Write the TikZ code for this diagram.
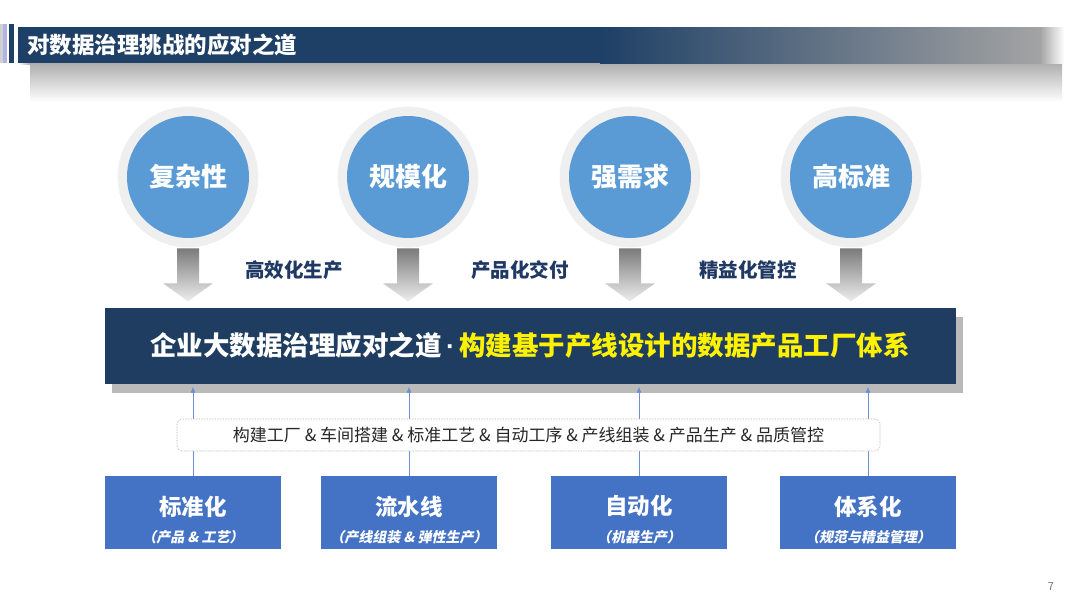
\documentclass[tikz,border=0pt]{standalone}
\usepackage{fontspec}
\setmainfont{Noto Sans CJK SC}
\newfontfamily\slfont{Noto Sans CJK SC}[FakeSlant=0.2]
\newfontfamily\dotfont{Liberation Sans}
\usetikzlibrary{shadows,arrows.meta}
\definecolor{titlenavy}{HTML}{1E4066}
\definecolor{bannernavy}{HTML}{1F3D61}
\definecolor{cblue}{HTML}{5B9BD5}
\definecolor{ringgray}{HTML}{EFEFEF}
\definecolor{lblnavy}{HTML}{1F3864}
\definecolor{boxblue}{HTML}{4472C4}
\definecolor{linkblue}{HTML}{6E8FD2}
\tikzset{
  ring/.style={circle, fill=ringgray, draw=black!6, line width=0.6pt, minimum size=140pt, inner sep=0pt},
  ball/.style={circle, fill=cblue, minimum size=122pt, inner sep=0pt, text=white,
    font=\bfseries\fontsize{26}{26}\selectfont},
  arrowshade/.style={top color=black!52, bottom color=black!7},
  lbl/.style={text=lblnavy, font=\bfseries\fontsize{19.5}{19.5}\selectfont, inner sep=0pt},
  banner/.style={fill=bannernavy, minimum width=851pt, minimum height=76pt, inner sep=0pt,
    font=\bfseries\fontsize{26.5}{26.5}\selectfont,
    general shadow={fill=black!27, shadow xshift=7pt, shadow yshift=-9pt}},
  bbox/.style={fill=boxblue, minimum width=176pt, minimum height=73pt, inner sep=0pt},
  btitle/.style={text=white, font=\bfseries\fontsize{22.5}{22.5}\selectfont, inner sep=0pt},
  bsub/.style={text=white, font=\slfont\bfseries\fontsize{14}{14}\selectfont, inner sep=0pt},
  link/.style={draw=linkblue, line width=0.7pt, -{Latex[length=6pt,width=5pt]}},
  dashbox/.style={draw=black!35, densely dotted, line width=0.6pt, rounded corners=5pt, fill=white,
    minimum width=703pt, minimum height=32pt, inner sep=0pt, text=black!85,
    font=\fontsize{17}{17}\selectfont}
}
\begin{document}
\begin{tikzpicture}[x=1pt,y=-1pt]
\useasboundingbox (0,0) rectangle (1067,600);
\fill[white] (0,0) rectangle (1067,600);

% ---- title bar ----
\shade[top color=black!32, middle color=black!8, bottom color=white] (30,63) rectangle (1062,102);
\shade[left color=white, right color=black!32] (18,63) rectangle (30,64);
\fill[black!18] (0,24) rectangle (3,63);
\fill[black!35!blue!30] (3,24) rectangle (7,63);
\fill[titlenavy] (9,24) rectangle (14,63);
\fill[titlenavy] (18,27) rectangle (600,63);
\shade[left color=titlenavy, right color=black!36] (600,27) rectangle (1040,63);
\shade[left color=black!36, right color=white] (1040,27) rectangle (1064,63);
\node[anchor=west, text=white, font=\bfseries\fontsize{22.5}{22.5}\selectfont, inner sep=0pt] (title) at (27,45) {对数据治理挑战的应对之道};

% ---- circles ----
\node[ring] (r1) at (188,177) {};
\node[ring] (r2) at (408,177) {};
\node[ring] (r3) at (630,177) {};
\node[ring] (r4) at (851,177) {};
\node[ball] (c1) at (r1) {复杂性};
\node[ball] (c2) at (r2) {规模化};
\node[ball] (c3) at (r3) {强需求};
\node[ball] (c4) at (r4) {高标准};

% ---- gray block arrows ----
\foreach \i in {1,2,3,4}{
  \shade[arrowshade] ([xshift=-11pt,yshift=-1pt]r\i.south) -- ++(22,0) -- ++(0,35) -- ++(14,0)
     -- ++(-25,18) -- ++(-25,-18) -- ++(14,0) -- cycle;
}

\node[lbl] (l1) at (294,270) {高效化生产};
\node[lbl] (l2) at (520,270) {产品化交付};
\node[lbl] (l3) at (748,270) {精益化管控};

% ---- banner ----
\node[banner] (banner) at (530,345.5) {\textcolor{white}{企业大数据治理应对之道{\dotfont\,·\,}}\textcolor{yellow}{构建基于产线设计的数据产品工厂体系}};

% ---- bottom boxes ----
\node[bbox] (b1) at (193,512.5) {};
\node[bbox] (b2) at (409,512.5) {};
\node[bbox] (b3) at (639,512.5) {};
\node[bbox] (b4) at (868,512.5) {};

\foreach \i in {1,2,3,4}{
  \draw[link] (b\i.north) -- ([yshift=-3pt]banner.south -| b\i.north);
}

\node[dashbox] (proc) at (528.5,435) {构建工厂 \& 车间搭建 \& 标准工艺 \& 自动工序 \& 产线组装 \& 产品生产 \& 品质管控};

\node[btitle] (t1) at ([yshift=6pt]b1.center) {标准化};
\node[btitle] (t2) at ([yshift=6pt]b2.center) {流水线};
\node[btitle] (t3) at ([yshift=7pt]b3.center) {自动化};
\node[btitle] (t4) at ([yshift=6pt]b4.center) {体系化};
\node[bsub] (s1) at ([yshift=-24.5pt]b1.center) {（产品 \& 工艺）};
\node[bsub] (s2) at ([yshift=-24.5pt]b2.center) {（产线组装 \& 弹性生产）};
\node[bsub] (s3) at ([yshift=-24.5pt]b3.center) {（机器生产）};
\node[bsub] (s4) at ([yshift=-24.5pt]b4.center) {（规范与精益管理）};

\node[text=black!55, font=\fontsize{11}{11}\selectfont, inner sep=0pt] (pg) at (1051,587) {7};
\end{tikzpicture}
\end{document}
